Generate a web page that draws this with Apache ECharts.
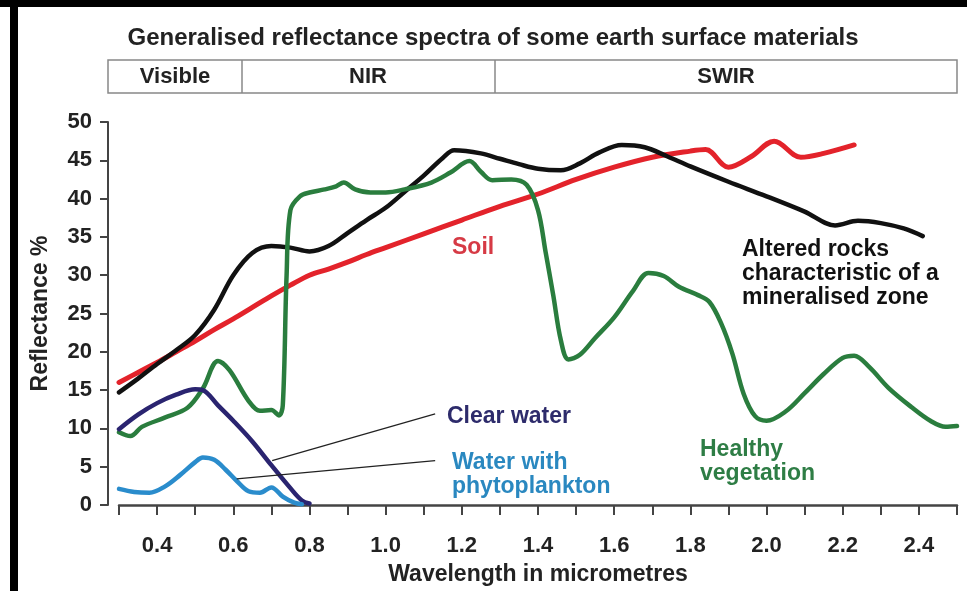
<!DOCTYPE html>
<html>
<head>
<meta charset="utf-8">
<script src="https://cdn.jsdelivr.net/npm/echarts@6/dist/echarts.min.js"></script>
<style>
  html, body { margin: 0; padding: 0; background: #fff; }
  #chart { width: 967px; height: 591px; }
</style>
</head>
<body>
<div id="chart"></div>
<script>
// wavelength (micrometres) / reflectance (%) pairs
const soil = [
  [0.30, 16.0], [0.35, 17.3], [0.40, 18.6], [0.45, 20.0], [0.50, 21.4], [0.55, 22.9],
  [0.60, 24.3], [0.65, 25.8], [0.70, 27.3], [0.75, 28.7], [0.80, 30.0], [0.85, 30.8],
  [0.90, 31.7], [0.95, 32.7], [1.00, 33.6], [1.10, 35.4], [1.20, 37.2], [1.30, 39.0],
  [1.40, 40.6], [1.50, 42.5], [1.60, 44.1], [1.70, 45.4], [1.80, 46.2], [1.84, 46.4],
  [1.90, 44.1], [1.96, 45.5], [2.02, 47.5], [2.09, 45.4], [2.15, 45.9], [2.23, 47.0]
];
const alteredRocks = [
  [0.30, 14.7], [0.35, 16.5], [0.40, 18.4], [0.45, 20.2], [0.50, 22.2], [0.55, 25.5],
  [0.60, 30.0], [0.65, 32.9], [0.70, 33.8], [0.75, 33.6], [0.80, 33.1], [0.85, 33.8],
  [0.90, 35.5], [0.95, 37.2], [1.00, 38.8], [1.05, 40.9], [1.10, 43.0], [1.15, 45.3],
  [1.18, 46.3], [1.25, 45.9], [1.30, 45.2], [1.35, 44.5], [1.40, 43.9], [1.46, 43.7],
  [1.51, 44.6], [1.56, 46.0], [1.62, 47.0], [1.68, 46.7], [1.74, 45.5], [1.80, 44.2],
  [1.90, 42.2], [2.00, 40.3], [2.10, 38.3], [2.18, 36.5], [2.24, 37.1], [2.30, 36.8],
  [2.36, 36.1], [2.41, 35.1]
];
const vegetation = [
  [0.30, 9.5], [0.33, 9.0], [0.36, 10.2], [0.42, 11.4], [0.48, 12.7], [0.52, 15.2],
  [0.56, 18.8], [0.59, 17.6], [0.64, 13.6], [0.67, 12.3], [0.70, 12.4], [0.72, 11.7],
  [0.73, 13.0], [0.74, 30.0], [0.75, 38.5], [0.775, 40.3], [0.80, 40.8], [0.84, 41.2],
  [0.87, 41.6], [0.89, 42.1], [0.92, 41.2], [0.96, 40.8], [1.00, 40.8], [1.05, 41.2],
  [1.12, 42.1], [1.17, 43.4], [1.22, 44.9], [1.25, 43.5], [1.28, 42.4], [1.33, 42.5],
  [1.37, 41.8], [1.40, 38.5], [1.42, 33.0], [1.44, 27.4], [1.46, 21.5], [1.48, 19.0],
  [1.51, 19.6], [1.55, 21.8], [1.60, 24.5], [1.65, 28.0], [1.69, 30.3], [1.73, 29.9],
  [1.77, 28.5], [1.82, 27.4], [1.85, 26.5], [1.88, 23.8], [1.91, 19.8], [1.94, 14.5],
  [1.97, 11.6], [2.00, 11.0], [2.05, 12.2], [2.10, 14.6], [2.15, 17.1], [2.20, 19.2],
  [2.23, 19.5], [2.27, 18.0], [2.32, 15.3], [2.38, 12.8], [2.43, 11.0], [2.47, 10.2],
  [2.50, 10.3]
];
const clearWater = [
  [0.30, 9.9], [0.35, 11.8], [0.40, 13.3], [0.45, 14.4], [0.50, 15.1], [0.52, 15.0],
  [0.56, 13.0], [0.60, 11.0], [0.65, 8.3], [0.70, 5.2], [0.75, 2.2], [0.78, 0.6], [0.80, 0.2]
];
const phytoplankton = [
  [0.30, 2.1], [0.34, 1.7], [0.38, 1.6], [0.42, 2.4], [0.46, 3.9], [0.50, 5.6],
  [0.52, 6.2], [0.55, 5.9], [0.58, 4.6], [0.61, 3.1], [0.64, 1.8], [0.67, 1.6],
  [0.70, 2.3], [0.73, 1.1], [0.76, 0.3], [0.78, 0.1]
];
// leader lines from the water labels to their curves
const clearWaterLeader = [[0.702, 5.8], [1.13, 11.9]];
const phytoLeader = [[0.609, 3.4], [1.13, 5.8]];

const bands = ['Visible', 'NIR', 'SWIR'];

const FONT = 'Liberation Sans, Arial, sans-serif';

const chart = echarts.init(document.getElementById('chart'));

function curve(name, data, color, width) {
  return {
    name: name,
    type: 'line',
    data: data,
    smooth: 0.35,
    showSymbol: false,
    lineStyle: { color: color, width: width, cap: 'round', join: 'round' },
    z: 3
  };
}

function leader(data) {
  return {
    type: 'line',
    data: data,
    showSymbol: false,
    lineStyle: { color: '#222', width: 1.2 },
    z: 4
  };
}

function label(text, left, top, color) {
  return {
    type: 'text',
    left: left,
    top: top,
    style: {
      text: text,
      fill: color,
      font: 'bold 23px ' + FONT,
      lineHeight: 24
    }
  };
}

function bandText(text, x) {
  return {
    type: 'text', x: x, y: 77,
    style: { text: text, fill: '#222', font: 'bold 22px ' + FONT, align: 'center', verticalAlign: 'middle' }
  };
}

const option = {
  backgroundColor: '#fff',
  animation: false,
  grid: { left: 119, right: 10, top: 122, bottom: 83 },
  xAxis: {
    type: 'value',
    min: 0.3,
    max: 2.5,
    interval: 0.1,
    offset: 14,
    name: 'Wavelength in micrometres',
    nameLocation: 'middle',
    nameGap: 44,
    nameTextStyle: { color: '#222', fontSize: 23, fontWeight: 'bold', fontFamily: FONT },
    axisLine: { lineStyle: { color: '#444', width: 2.5 } },
    axisTick: { length: 10, lineStyle: { color: '#444', width: 2 } },
    axisLabel: {
      margin: 16,
      color: '#222',
      fontSize: 22,
      fontWeight: 'bold',
      fontFamily: FONT,
      formatter: function (v) {
        const t = Math.round(v * 10);
        return (t % 2 === 0 && t >= 4 && t <= 24) ? (t / 10).toFixed(1) : '';
      }
    },
    splitLine: { show: false }
  },
  yAxis: {
    type: 'value',
    min: 0,
    max: 50,
    interval: 5,
    offset: 11,
    name: 'Reflectance %',
    nameLocation: 'middle',
    nameGap: 56,
    nameRotate: 90,
    nameTextStyle: { color: '#222', fontSize: 23, fontWeight: 'bold', fontFamily: FONT },
    axisLine: { show: true, lineStyle: { color: '#444', width: 2 } },
    axisTick: { show: true, length: 8, lineStyle: { color: '#444', width: 2 } },
    axisLabel: { margin: 16, color: '#222', fontSize: 22, fontWeight: 'bold', fontFamily: FONT },
    splitLine: { show: false }
  },
  series: [
    curve('Soil', soil, '#e3232b', 5),
    curve('Altered rocks', alteredRocks, '#111111', 4.5),
    curve('Healthy vegetation', vegetation, '#2a7d3e', 4.5),
    curve('Clear water', clearWater, '#2a2470', 4.5),
    curve('Water with phytoplankton', phytoplankton, '#2a8ccc', 4.5),
    leader(clearWaterLeader),
    leader(phytoLeader)
  ],
  graphic: [
    // frame
    { type: 'rect', shape: { x: 0, y: 0, width: 967, height: 7 }, style: { fill: '#000' } },
    { type: 'rect', shape: { x: 10, y: 0, width: 8, height: 591 }, style: { fill: '#000' } },
    // title and band header
    {
      type: 'text', x: 493, y: 38,
      style: {
        text: 'Generalised reflectance spectra of some earth surface materials',
        fill: '#222', font: 'bold 24px ' + FONT, align: 'center', verticalAlign: 'middle'
      }
    },
    { type: 'rect', shape: { x: 108, y: 60, width: 849, height: 33 }, style: { fill: 'none', stroke: '#888', lineWidth: 1.5 } },
    { type: 'line', shape: { x1: 242, y1: 60, x2: 242, y2: 93 }, style: { stroke: '#888', lineWidth: 1.5 } },
    { type: 'line', shape: { x1: 495, y1: 60, x2: 495, y2: 93 }, style: { stroke: '#888', lineWidth: 1.5 } },
    bandText(bands[0], 175),
    bandText(bands[1], 368),
    bandText(bands[2], 726),
    // curve annotations
    label('Soil', 452, 236, '#d63a45'),
    label('Altered rocks\ncharacteristic of a\nmineralised zone', 742, 238, '#111'),
    label('Clear water', 447, 405, '#2d2b6b'),
    label('Water with\nphytoplankton', 452, 451, '#2a88c0'),
    label('Healthy\nvegetation', 700, 438, '#2e7d45')
  ]
};

chart.setOption(option);
</script>
</body>
</html>
